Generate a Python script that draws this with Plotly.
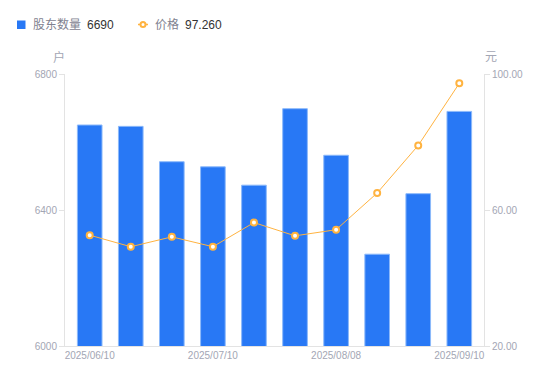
import plotly.graph_objects as go

dates = ["2025/06/10", "2025/06/20", "2025/06/30", "2025/07/10", "2025/07/18",
         "2025/07/31", "2025/08/08", "2025/08/20", "2025/08/29", "2025/09/10"]
holders = [6650, 6646, 6542, 6527, 6473, 6698, 6561, 6270, 6448, 6690]
prices = [52.6, 49.2, 52.1, 49.2, 56.3, 52.4, 54.2, 65.0, 79.0, 97.26]
x_tick_labels = ["2025/06/10", "2025/07/10", "2025/08/08", "2025/09/10"]
y1_ticks = [6000, 6400, 6800]
y2_ticks = [20, 60, 100]

BLUE = "#2878F5"
ORANGE = "#FFB340"
GRAY = "#A3A6B4"
AXIS = "#E3E3E3"
FONT = "Liberation Sans, Arial, Noto Sans CJK SC, sans-serif"

# page has an 8px body margin; figure is sized/placed to compensate
OFF = 8
W, H = 550 - OFF, 381 - OFF
# plot area in page coordinates: x 65..484, y 74..346
PL, PR, PT, PB = 65, 484, 74, 346
L, T = PL - OFF, PT - OFF
R = W - (PR - OFF)
B = H - (PB - OFF)
pw, ph = PR - PL, PB - PT


def px(x):
    return (x - PL) / pw


def py(y):
    return (PB - y) / ph


fig = go.Figure()
fig.add_trace(go.Bar(
    x=dates, y=holders, name="股东数量",
    marker=dict(color=BLUE, line=dict(color="rgba(140,185,250,1)", width=1)),
    yaxis="y", showlegend=False,
))
fig.add_trace(go.Scatter(
    x=dates, y=prices, name="价格", mode="lines+markers",
    line=dict(color=ORANGE, width=1),
    marker=dict(size=6, color="white", line=dict(color=ORANGE, width=2)),
    yaxis="y2", showlegend=False,
))

shapes = [
    dict(type="rect", xref="paper", yref="paper",
         x0=px(17), x1=px(25.5), y0=py(20.5), y1=py(29), fillcolor=BLUE,
         line=dict(width=0), layer="above"),
    dict(type="line", xref="paper", yref="paper",
         x0=px(138), x1=px(148), y0=py(24.5), y1=py(24.5),
         line=dict(color=ORANGE, width=1.5)),
    dict(type="circle", xref="paper", yref="paper",
         x0=px(140.5), x1=px(145.5), y0=py(22), y1=py(27),
         fillcolor="white", line=dict(color=ORANGE, width=2)),
]


def ann(text, x, y, color, anchor="left"):
    return dict(text=text, x=px(x), y=py(y), xref="paper", yref="paper",
                xanchor=anchor, yanchor="middle", showarrow=False,
                font=dict(size=12, color=color, family=FONT))


annotations = [
    ann("股东数量", 31, 24.5, "#7F8290"),
    ann("6690", 85, 24.5, "#333333"),
    ann("价格", 153, 24.5, "#7F8290"),
    ann("97.260", 183, 24.5, "#333333"),
    ann("户", 58.5, 57, GRAY, "center"),
    ann("元", 491, 57, GRAY, "center"),
]

fig.update_layout(
    width=W, height=H,
    margin=dict(l=L, r=R, t=T, b=B, pad=0),
    paper_bgcolor="white", plot_bgcolor="white",
    bargap=0.4,
    font=dict(family=FONT, size=10, color=GRAY),
    xaxis=dict(
        type="category", tickmode="array", tickvals=x_tick_labels, ticktext=x_tick_labels,
        showgrid=False, showline=True, linecolor=AXIS, linewidth=1,
        ticks="", tickfont=dict(size=10, color=GRAY), zeroline=False,
    ),
    yaxis=dict(
        range=[6000, 6800], tickvals=y1_ticks, showgrid=False, zeroline=False,
        showline=True, linecolor=AXIS, linewidth=1, ticks="outside", ticklen=5,
        tickcolor=AXIS, tickfont=dict(size=10, color=GRAY),
    ),
    yaxis2=dict(
        range=[20, 100], tickvals=y2_ticks, tickformat=".2f", overlaying="y", side="right",
        showgrid=False, zeroline=False, showline=True, linecolor=AXIS, linewidth=1,
        ticks="outside", ticklen=5, tickcolor=AXIS, tickfont=dict(size=10, color=GRAY),
    ),
    shapes=shapes,
    annotations=annotations,
)

fig.write_html("out.html")
